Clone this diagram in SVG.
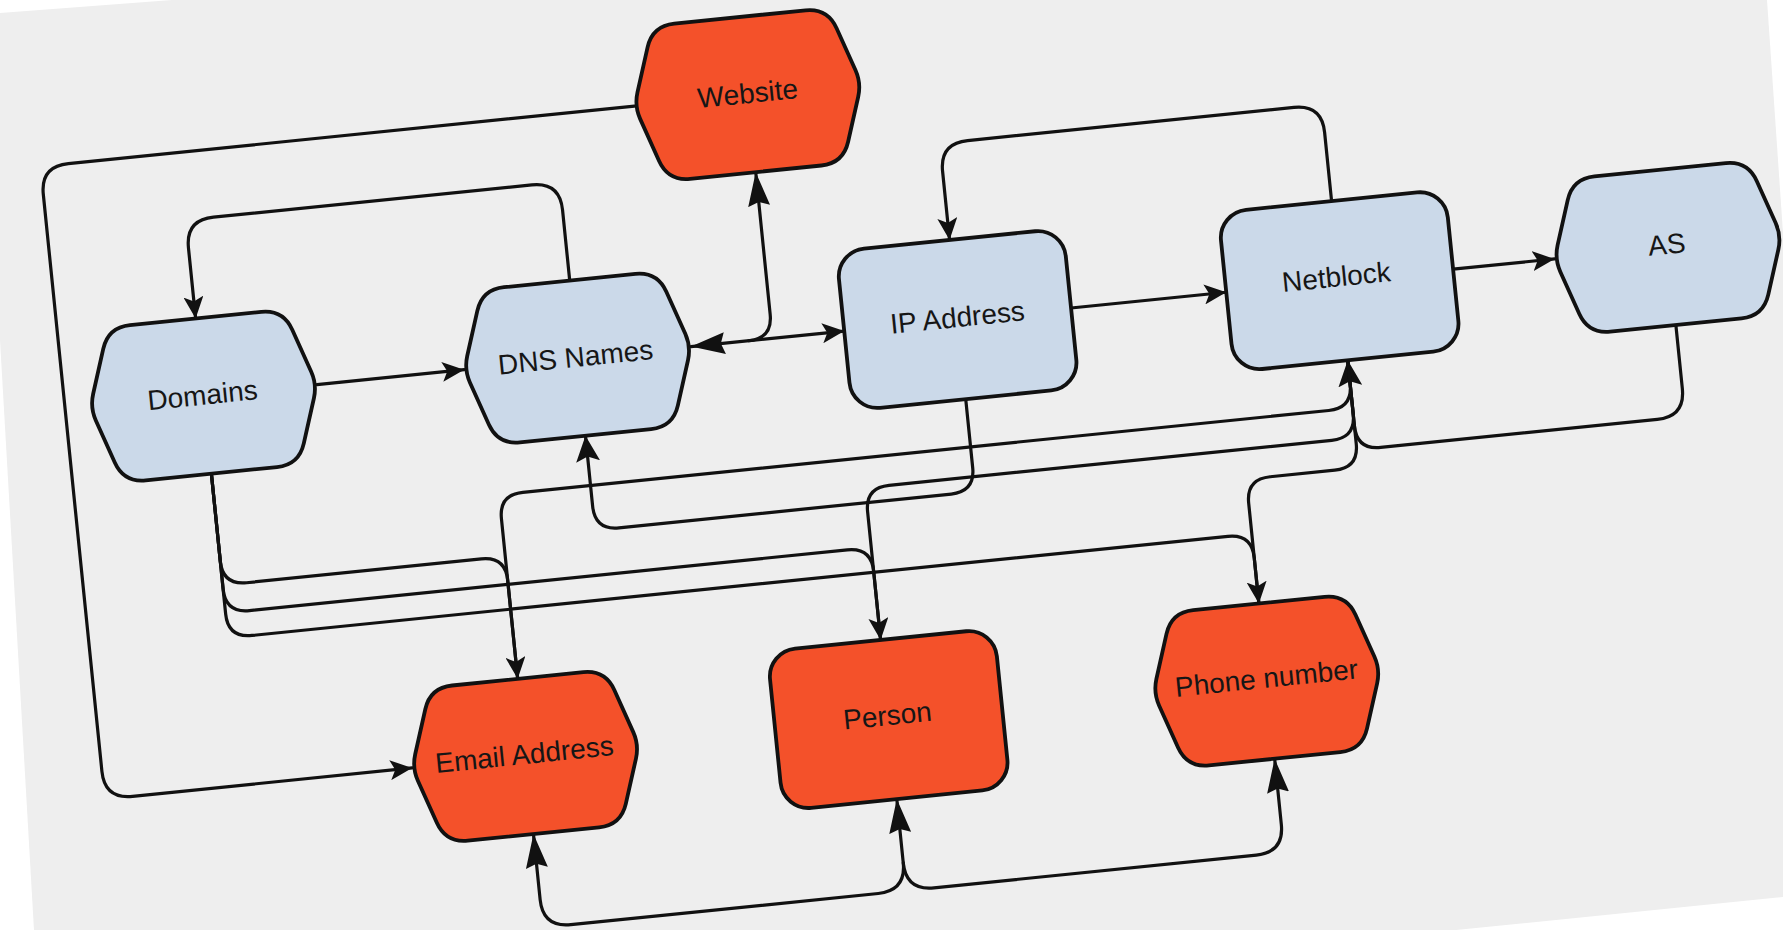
<svg xmlns="http://www.w3.org/2000/svg" width="1783" height="930" viewBox="0 0 1783 930">
  <defs>
    <style>
      .blue{fill:#cbd9e9;stroke:#111111;stroke-width:3.8}
      .orange{fill:#f4512a;stroke:#111111;stroke-width:3.8}
      .label{font-family:"Liberation Sans",Arial,sans-serif;font-size:28px;fill:#161616;text-anchor:middle;dominant-baseline:central}
      .edge{fill:none;stroke:#111111;stroke-width:3.2;stroke-linejoin:round;stroke-linecap:round}
    </style>
    <!-- six-sided node outline, centred on the origin -->
    <path id="hex" d="M-66,-78 H66 Q88,-78 95,-57.1 L109.6,-13.3 Q114,0 109.6,13.3 L95,57.1 Q88,78 66,78 H-66 Q-88,78 -95,57.1 L-109.6,13.3 Q-114,0 -109.6,-13.3 L-95,-57.1 Q-88,-78 -66,-78 Z"/>
    <!-- rounded box node outline, centred on the origin -->
    <rect id="box" x="-114" y="-80" width="228" height="160" rx="28" ry="28"/>
    <marker id="arr" markerUnits="userSpaceOnUse" viewBox="0 0 22 20" markerWidth="22" markerHeight="20" refX="22" refY="10" orient="auto-start-reverse">
      <path d="M0,0 L22,10 L0,20 L5,10 Z" fill="#111111"/>
    </marker>
    <marker id="arrMid" markerUnits="userSpaceOnUse" viewBox="0 0 26 24" markerWidth="26" markerHeight="24" refX="26" refY="12" orient="auto-start-reverse">
      <path d="M0,0 L26,12 L0,24 L5,12 Z" fill="#111111"/>
    </marker>
    <marker id="arrBig" markerUnits="userSpaceOnUse" viewBox="0 0 34 22" markerWidth="34" markerHeight="22" refX="34" refY="11" orient="auto-start-reverse">
      <path d="M0,0 L34,11 L0,22 L4,11 Z" fill="#111111"/>
    </marker>
  </defs>

  <!-- paper -->
  <rect x="0" y="0" width="1783" height="930" fill="#ffffff"/>
  <polygon points="0,13 172,0 1767,0 1783,233 1783,897 1456,930 34,930 0,340" fill="#eeeeee"/>

  <g id="diagram" transform="rotate(-5.8 891 465)">
    <g id="connectors">
      <!-- Website -> Email Address -->
      <path class="edge" d="M672,82 H103 Q75,82 75,110 V690 Q75,718 103,718 H384" marker-end="url(#arr)"/>
      <!-- DNS Names -> Domains -->
      <path class="edge" d="M590,249 V178 Q590,150 562,150 H242 Q214,150 214,178 V249" marker-end="url(#arr)"/>
      <!-- Domains -> DNS Names -->
      <path class="edge" d="M328,327 H476" marker-end="url(#arr)"/>
      <!-- DNS Names <-> IP Address -->
      <path class="edge" d="M704,327 H858" marker-start="url(#arrBig)" marker-end="url(#arr)"/>
      <!-- branch up to Website -->
      <path class="edge" d="M762,327 Q786,327 786,303 V160" marker-end="url(#arrBig)"/>
      <!-- IP Address -> Netblock -->
      <path class="edge" d="M1086,327 H1242" marker-end="url(#arr)"/>
      <!-- Netblock -> AS -->
      <path class="edge" d="M1470,327 H1572" marker-end="url(#arr)"/>
      <!-- Netblock -> IP Address -->
      <path class="edge" d="M1356,247 V178 Q1356,150 1328,150 H1000 Q972,150 972,178 V247" marker-end="url(#arr)"/>
      <!-- AS -> Netblock -->
      <path class="edge" d="M1686,405 V469 Q1686,497 1658,497 H1380 Q1356,497 1356,473 V407" marker-end="url(#arrMid)"/>
      <!-- Email Address <-> Netblock -->
      <path class="edge" d="M498,640 V479 Q498,455 522,455 H1332 Q1356,455 1356,431 V407" marker-start="url(#arr)"/>
      <!-- IP Address -> DNS Names -->
      <path class="edge" d="M972,407 V476 Q972,500 948,500 H614 Q590,500 590,476 V405" marker-end="url(#arrMid)"/>
      <!-- Netblock -> Person -->
      <path class="edge" d="M1356,407 V461 Q1356,485 1332,485 H887 Q863,485 863,509 V638" marker-end="url(#arr)"/>
      <!-- Netblock -> Phone number -->
      <path class="edge" d="M1356,407 V491 Q1356,515 1332,515 H1267 Q1243,515 1243,539 V640" marker-end="url(#arr)"/>
      <!-- Domains -> Email Address -->
      <path class="edge" d="M214,405 V493 Q214,517 238,517 H474 Q498,517 498,541 V640"/>
      <!-- Domains -> Person -->
      <path class="edge" d="M214,405 V521 Q214,545 238,545 H839 Q863,545 863,569 V638"/>
      <!-- Domains -> Phone number -->
      <path class="edge" d="M214,405 V546 Q214,570 238,570 H1219 Q1243,570 1243,594 V640"/>
      <!-- Person -> Email Address -->
      <path class="edge" d="M863,798 V862 Q863,890 835,890 H526 Q498,890 498,862 V796" marker-start="url(#arrBig)" marker-end="url(#arrBig)"/>
      <!-- Person -> Phone number -->
      <path class="edge" d="M863,862 Q863,890 891,890 H1215 Q1243,890 1243,862 V796" marker-end="url(#arrBig)"/>
    </g>

    <g id="node-website">
      <use href="#hex" class="orange" x="786" y="82"/>
      <text class="label" x="786" y="81">Website</text>
    </g>
    <g id="node-domains">
      <use href="#hex" class="blue" x="214" y="327"/>
      <text class="label" x="213" y="326">Domains</text>
    </g>
    <g id="node-dns-names">
      <use href="#hex" class="blue" x="590" y="327"/>
      <text class="label" x="588" y="326">DNS Names</text>
    </g>
    <g id="node-ip-address">
      <use href="#box" class="blue" x="972" y="327"/>
      <text class="label" x="972" y="325">IP Address</text>
    </g>
    <g id="node-netblock">
      <use href="#box" class="blue" x="1356" y="327"/>
      <text class="label" x="1353" y="323">Netblock</text>
    </g>
    <g id="node-as">
      <use href="#hex" class="blue" x="1686" y="327"/>
      <text class="label" x="1685" y="324">AS</text>
    </g>
    <g id="node-email-address">
      <use href="#hex" class="orange" x="498" y="718"/>
      <text class="label" x="497" y="716">Email Address</text>
    </g>
    <g id="node-person">
      <use href="#box" class="orange" x="863" y="718"/>
      <text class="label" x="862" y="714">Person</text>
    </g>
    <g id="node-phone-number">
      <use href="#hex" class="orange" x="1243" y="718"/>
      <text class="label" x="1243" y="715">Phone number</text>
    </g>
  </g>
</svg>
